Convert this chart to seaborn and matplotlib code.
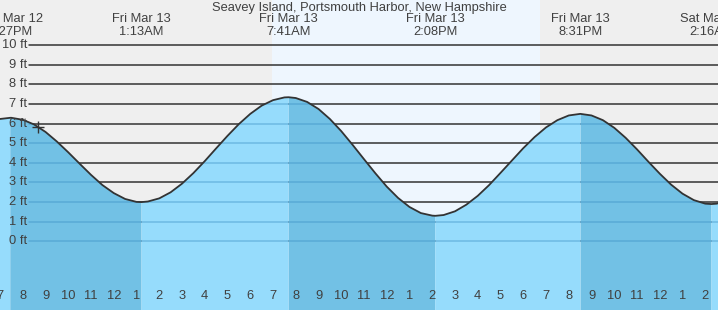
import numpy as np
import pandas as pd
import matplotlib
matplotlib.use("Agg")
import matplotlib.pyplot as plt
import matplotlib.transforms as mtransforms
import seaborn as sns

# ---------------- data ----------------
# hours relative to Fri Mar 13 00:00 (local)
sample_hours = np.arange(-5.0, 27.01, 0.5)
sample_heights = [6.24, 6.30, 6.20, 5.96, 5.58, 5.09, 4.54, 3.96, 3.39, 2.87,
                  2.46, 2.16, 2.01, 2.03, 2.19, 2.50, 2.94, 3.48, 4.09, 4.74,
                  5.38, 5.98, 6.50, 6.92, 7.20, 7.34, 7.31, 7.11, 6.75, 6.24,
                  5.62, 4.92, 4.19, 3.47, 2.79, 2.21, 1.75, 1.44, 1.31, 1.34,
                  1.53, 1.87, 2.32, 2.87, 3.49, 4.12, 4.75, 5.32, 5.81, 6.18,
                  6.42, 6.50, 6.42, 6.18, 5.79, 5.28, 4.69, 4.06, 3.45, 2.89,
                  2.43, 2.10, 1.92, 1.92, 2.08]

event_hours = [-4.55, 1.217, 7.683, 14.133, 20.517, 26.267]
event_heights = [6.3, 2.0, 7.35, 1.3, 6.5, 1.9]
event_types = ["H", "L", "H", "L", "H", "L"]
event_days = ["Thu Mar 12", "Fri Mar 13", "Fri Mar 13", "Fri Mar 13", "Fri Mar 13", "Sat Mar 14"]
event_times = ["7:27PM", "1:13AM", "7:41AM", "2:08PM", "8:31PM", "2:16AM"]

sunrise_hour, sunset_hour = 6.95, 18.75
now_hour, now_height = -3.31, 5.85

tick_hours = list(range(-5, 27))
tick_labels = ["7", "8", "9", "10", "11", "12", "1", "2", "3", "4", "5", "6",
               "7", "8", "9", "10", "11", "12", "1", "2", "3", "4", "5", "6",
               "7", "8", "9", "10", "11", "12", "1", "2"]
feet_levels = list(range(0, 11))
feet_labels = [f"{v} ft" for v in feet_levels]

title = "Seavey Island, Portsmouth Harbor, New Hampshire"

# ---------------- style ----------------
sns.set_style("white")
plt.rcParams["font.family"] = ["Liberation Sans", "DejaVu Sans"]

W, H = 718, 310
fig = plt.figure(figsize=(W / 100, H / 100), dpi=100)
ax = fig.add_axes([0, 0, 1, 1])

XMIN, XMAX = -4.93, 26.56
YMIN, YMAX = -3.505, 12.31
ax.set_xlim(XMIN, XMAX)
ax.set_ylim(YMIN, YMAX)
for s in ax.spines.values():
    s.set_visible(False)

NIGHT = "#efefef"
DAY = "#eef6fe"
DARK = "#72c1e5"
LIGHT = "#96dcfc"
TXT = "#404040"
FS = 9.3

ax.set_facecolor(NIGHT)
ax.axvspan(sunrise_hour, sunset_hour, color=DAY, lw=0, zorder=0)

df = pd.DataFrame({"hour": np.concatenate([sample_hours, event_hours]),
                   "height": np.concatenate([sample_heights, event_heights])})
df = df.sort_values("hour").reset_index(drop=True)
t = df["hour"].to_numpy()
v = df["height"].to_numpy()

# falling (high -> low) is darker
falling = np.zeros_like(t, dtype=bool)
for i in range(len(event_hours) - 1):
    if event_types[i] == "H":
        falling |= (t >= event_hours[i]) & (t <= event_hours[i + 1])
is_event = np.isin(t, event_hours)
rising = (~falling) | is_event

# black gridlines (under water)
x0 = 29 / W
for y in feet_levels:
    ax.axhline(y, xmin=x0, xmax=1, color="#333333", lw=1.1, zorder=1)

ax.fill_between(t, v, YMIN - 1, where=falling, color=DARK, lw=0, zorder=2)
ax.fill_between(t, v, YMIN - 1, where=rising, color=LIGHT, lw=0, zorder=2)

# bluish gridlines within the water
clip_poly = ax.fill_between(t, v, YMIN - 1, facecolor="none", lw=0, zorder=0)
clip_path = clip_poly.get_paths()[0]
for y in feet_levels:
    ln = ax.axhline(y, xmin=x0, xmax=1, color="#3a8fc4", alpha=0.45, lw=1.1, zorder=3)
    ln.set_clip_path(clip_path, ax.transData)

sns.lineplot(data=df, x="hour", y="height", ax=ax, color="#333333", lw=1.3,
             zorder=4, sort=True, estimator=None)
ax.plot([now_hour], [now_height], marker="+", ms=8, mew=1.0, color="#333333", zorder=5)

ax.set_xlabel("")
ax.set_ylabel("")
ax.set_yticks([])

# bottom ticks
ax.set_xticks([h for h in tick_hours if h % 24 != 0])
ax.set_xticks([h for h in tick_hours if h % 24 == 0], minor=True)
ax.set_xticklabels([])
ax.tick_params(axis="x", which="major", direction="in", length=5.8, width=0.8,
               color="#333333", bottom=True, labelbottom=False)
ax.tick_params(axis="x", which="minor", direction="in", length=5.8, width=2.2,
               color="#333333", bottom=True, labelbottom=False)
for a in ax.get_xticklines(minor=False) + ax.get_xticklines(minor=True):
    a.set_zorder(6)

bx = mtransforms.blended_transform_factory(ax.transData, ax.transAxes)
for h, lab in zip(tick_hours, tick_labels):
    ax.text(h, 14 / H, lab, transform=bx, ha="center", va="center",
            fontsize=FS, color=TXT, zorder=7)

by = mtransforms.blended_transform_factory(ax.transAxes, ax.transData)
for y, lab in zip(feet_levels, feet_labels):
    ax.text(27 / W, y, lab, transform=by, ha="right", va="center",
            fontsize=FS, color=TXT, zorder=7)

# top labels
for h, d, tm in zip(event_hours, event_days, event_times):
    ax.text(h, 1 - 19 / H, d, transform=bx, ha="center", va="center",
            fontsize=FS, color=TXT, zorder=7, clip_on=False)
    ax.text(h, 1 - 32 / H, tm, transform=bx, ha="center", va="center",
            fontsize=FS, color=TXT, zorder=7, clip_on=False)

ax.text(0.5, 1 - 8 / H, title, transform=ax.transAxes, ha="center", va="center",
        fontsize=FS, color=TXT, zorder=7)

fig.savefig("out.png", dpi=100, facecolor=NIGHT)
